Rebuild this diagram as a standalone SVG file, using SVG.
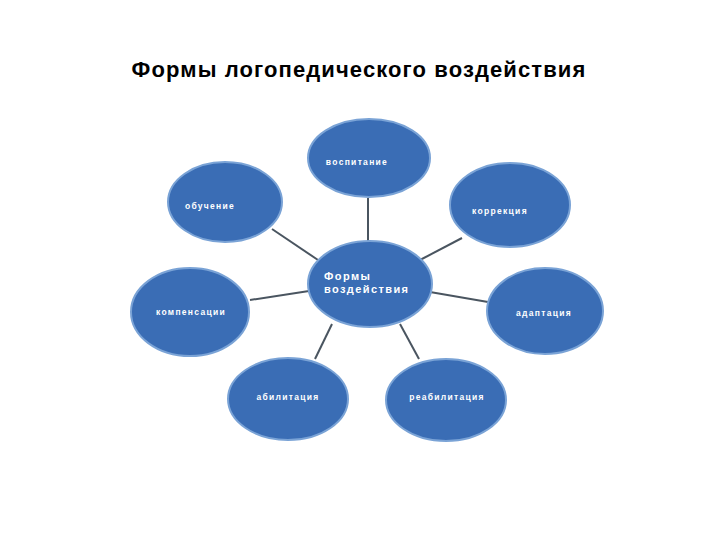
<svg xmlns="http://www.w3.org/2000/svg" width="720" height="540" viewBox="0 0 720 540">
<style>
.n{fill:#3a6db5;stroke:#7aa3d6;stroke-width:2}
.t{fill:#ffffff;font-family:"Liberation Sans",Arial,sans-serif;font-weight:bold;font-size:8.5px;letter-spacing:1.3px;text-anchor:middle}
.ct{fill:#ffffff;font-family:"Liberation Sans",Arial,sans-serif;font-weight:bold;font-size:11px;letter-spacing:1.4px}
.c{stroke:#4a5560;stroke-width:2;fill:none}
.title{font-family:"Liberation Sans",Arial,sans-serif;font-weight:bold;font-size:22px;letter-spacing:1.1px;fill:#000;text-anchor:middle}
</style>
<rect width="720" height="540" fill="#ffffff"/>
<text class="title" x="359" y="77">Формы логопедического воздействия</text>
<g id="connectors">
<line class="c" x1="368" y1="198" x2="368" y2="241"/>
<line class="c" x1="272" y1="229" x2="318" y2="260"/>
<line class="c" x1="462" y1="238" x2="420" y2="260"/>
<line class="c" x1="250" y1="300" x2="309" y2="291"/>
<line class="c" x1="430" y1="292" x2="488" y2="302"/>
<line class="c" x1="332" y1="324" x2="315" y2="359"/>
<line class="c" x1="400" y1="324" x2="419" y2="359"/>
</g>
<g id="center">
<ellipse class="n" cx="370" cy="284" rx="62" ry="43"/>
<text class="ct" x="324" y="280">Формы</text>
<text class="ct" x="324" y="293">воздействия</text>
</g>
<g id="vospitanie">
<ellipse class="n" cx="369" cy="158" rx="61" ry="39"/>
<text class="t" x="357" y="165">воспитание</text>
</g>
<g id="obuchenie">
<ellipse class="n" cx="225" cy="202" rx="57" ry="40"/>
<text class="t" x="210" y="209">обучение</text>
</g>
<g id="korrekcia">
<ellipse class="n" cx="510" cy="205" rx="60" ry="42"/>
<text class="t" x="500" y="214">коррекция</text>
</g>
<g id="kompensacii">
<ellipse class="n" cx="190" cy="312" rx="59" ry="44"/>
<text class="t" x="191" y="315">компенсации</text>
</g>
<g id="adaptacia">
<ellipse class="n" cx="545" cy="311" rx="58" ry="43"/>
<text class="t" x="544" y="316">адаптация</text>
</g>
<g id="abilitacia">
<ellipse class="n" cx="288" cy="399" rx="60" ry="41"/>
<text class="t" x="288" y="400">абилитация</text>
</g>
<g id="reabilitacia">
<ellipse class="n" cx="446" cy="400" rx="60" ry="41"/>
<text class="t" x="447" y="400">реабилитация</text>
</g>
</svg>
